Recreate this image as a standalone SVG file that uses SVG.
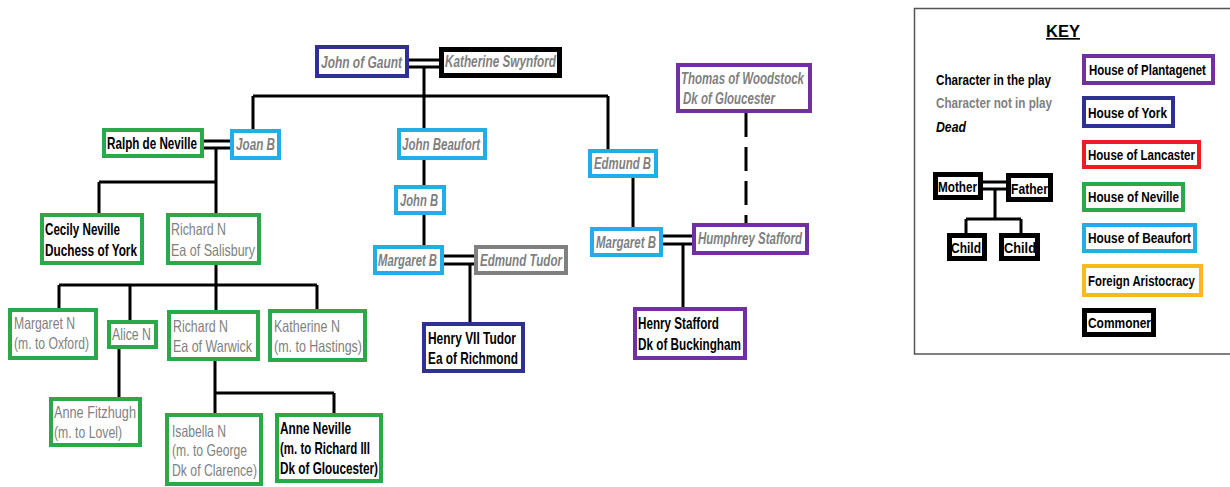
<svg xmlns="http://www.w3.org/2000/svg" width="1230" height="487" viewBox="0 0 1230 487">
<style>
.bx{fill:#fff;stroke-width:4}
.bk{stroke:#000;stroke-width:5}
.yk{stroke:#2e3192}
.pl{stroke:#7030a0}
.nv{stroke:#2aa84a}
.bf{stroke:#22ade6}
.lc{stroke:#ed1c24}
.fa{stroke:#f9b91c}
.gy{stroke:#808080}
text{font-family:"Liberation Sans Narrow","Liberation Sans",Arial,sans-serif;font-size:16.5px}
.d{fill:#7f7f7f;font-style:italic;font-weight:bold}
.n{fill:#7f7f7f}
.p{fill:#000;font-weight:bold}
.k{font-size:15.5px}
.ln{stroke:#000;stroke-width:3;fill:none}
.dash{stroke:#000;stroke-width:3;fill:none;stroke-dasharray:24 10}
</style>
<rect width="1230" height="487" fill="#fff"/>
<g id="connectors">
<path class="ln" d="M409 60H439M409 67H439M424 67V128M253 96H608M253 96V129M608 96V149"/>
<path class="ln" d="M204 141H230M204 148H230M216 148V213M99 182H216M99 182V213"/>
<path class="ln" d="M216 265V285M59 285H317M59 285V308M130 285V320M216 285V310M317 285V309"/>
<path class="ln" d="M119 349V397M215 361V413M215 393H334M334 393V413"/>
<path class="ln" d="M424 160V185M424 215V245M444 256H474M444 264H474M470 264V322"/>
<path class="ln" d="M633 178V227M663 236H692M663 244H692M683 244V307"/>
<path class="dash" d="M746 113V223"/>
</g>
<g id="gaunt"><rect class="bx yk" x="317" y="47" width="90" height="29"/><text class="d" x="321" y="68" textLength="81" lengthAdjust="spacingAndGlyphs">John of Gaunt</text></g>
<g id="katherine"><rect class="bx bk" x="441.5" y="49.5" width="118" height="26"/><text class="d" x="445" y="67" textLength="111" lengthAdjust="spacingAndGlyphs">Katherine Swynford</text></g>
<g id="ralph"><rect class="bx nv" x="104" y="130" width="98" height="26"/><text class="p" x="107" y="149" textLength="90" lengthAdjust="spacingAndGlyphs">Ralph de Neville</text></g>
<g id="joan"><rect class="bx bf" x="232" y="131" width="47" height="27"/><text class="d" x="236" y="150" textLength="39" lengthAdjust="spacingAndGlyphs">Joan B</text></g>
<g id="john-beaufort"><rect class="bx bf" x="399" y="130" width="86" height="28"/><text class="d" x="402" y="150" textLength="78" lengthAdjust="spacingAndGlyphs">John Beaufort</text></g>
<g id="edmund-b"><rect class="bx bf" x="590" y="151" width="66" height="25"/><text class="d" x="594" y="169" textLength="57" lengthAdjust="spacingAndGlyphs">Edmund B</text></g>
<g id="thomas"><rect class="bx pl" x="678" y="65" width="132" height="46"/><text class="d" x="681" y="84" textLength="123" lengthAdjust="spacingAndGlyphs">Thomas of Woodstock</text><text class="d" x="683" y="104" textLength="92" lengthAdjust="spacingAndGlyphs">Dk of Gloucester</text></g>
<g id="john-b"><rect class="bx bf" x="396" y="187" width="48" height="26"/><text class="d" x="400" y="206" textLength="38" lengthAdjust="spacingAndGlyphs">John B</text></g>
<g id="margaret-b1"><rect class="bx bf" x="375" y="247" width="67" height="26"/><text class="d" x="378" y="266" textLength="59" lengthAdjust="spacingAndGlyphs">Margaret B</text></g>
<g id="edmund-tudor"><rect class="bx gy" x="476" y="247" width="90" height="26"/><text class="d" x="480" y="266" textLength="82" lengthAdjust="spacingAndGlyphs">Edmund Tudor</text></g>
<g id="margaret-b2"><rect class="bx bf" x="592" y="229" width="69" height="26"/><text class="d" x="596" y="248" textLength="60" lengthAdjust="spacingAndGlyphs">Margaret B</text></g>
<g id="humphrey"><rect class="bx pl" x="694" y="225" width="113" height="28"/><text class="d" x="698" y="244" textLength="104" lengthAdjust="spacingAndGlyphs">Humphrey Stafford</text></g>
<g id="cecily"><rect class="bx nv" x="42" y="215" width="100" height="48"/><text class="p" x="45" y="235" textLength="75" lengthAdjust="spacingAndGlyphs">Cecily Neville</text><text class="p" x="45" y="256" textLength="92" lengthAdjust="spacingAndGlyphs">Duchess of York</text></g>
<g id="richard-salisbury"><rect class="bx nv" x="168" y="215" width="91" height="48"/><text class="n" x="171" y="235" textLength="55" lengthAdjust="spacingAndGlyphs">Richard N</text><text class="n" x="171" y="256" textLength="84" lengthAdjust="spacingAndGlyphs">Ea of Salisbury</text></g>
<g id="margaret-n"><rect class="bx nv" x="10" y="310" width="86" height="48"/><text class="n" x="14" y="329" textLength="61" lengthAdjust="spacingAndGlyphs">Margaret N</text><text class="n" x="14" y="349" textLength="75" lengthAdjust="spacingAndGlyphs">(m. to Oxford)</text></g>
<g id="alice"><rect class="bx nv" x="109" y="322" width="47" height="25"/><text class="n" x="112" y="340" textLength="39" lengthAdjust="spacingAndGlyphs">Alice N</text></g>
<g id="richard-warwick"><rect class="bx nv" x="169" y="312" width="89" height="47"/><text class="n" x="173" y="332" textLength="55" lengthAdjust="spacingAndGlyphs">Richard N</text><text class="n" x="173" y="352" textLength="79" lengthAdjust="spacingAndGlyphs">Ea of Warwick</text></g>
<g id="katherine-n"><rect class="bx nv" x="270" y="311" width="95" height="49"/><text class="n" x="274" y="332" textLength="66" lengthAdjust="spacingAndGlyphs">Katherine N</text><text class="n" x="274" y="352" textLength="88" lengthAdjust="spacingAndGlyphs">(m. to Hastings)</text></g>
<g id="anne-fitzhugh"><rect class="bx nv" x="51" y="399" width="89" height="46"/><text class="n" x="54" y="418" textLength="82" lengthAdjust="spacingAndGlyphs">Anne Fitzhugh</text><text class="n" x="54" y="438" textLength="68" lengthAdjust="spacingAndGlyphs">(m. to Lovel)</text></g>
<g id="isabella"><rect class="bx nv" x="167" y="415" width="94" height="69"/><text class="n" x="172" y="437" textLength="54" lengthAdjust="spacingAndGlyphs">Isabella N</text><text class="n" x="172" y="456" textLength="75" lengthAdjust="spacingAndGlyphs">(m. to George</text><text class="n" x="172" y="476" textLength="85" lengthAdjust="spacingAndGlyphs">Dk of Clarence)</text></g>
<g id="anne-neville"><rect class="bx nv" x="277" y="415" width="104" height="66"/><text class="p" x="280" y="434" textLength="71" lengthAdjust="spacingAndGlyphs">Anne Neville</text><text class="p" x="280" y="454" textLength="90" lengthAdjust="spacingAndGlyphs">(m. to Richard III</text><text class="p" x="280" y="474" textLength="98" lengthAdjust="spacingAndGlyphs">Dk of Gloucester)</text></g>
<g id="henry-vii"><rect class="bx yk" x="424" y="324" width="99" height="47"/><text class="p" x="428" y="344" textLength="88" lengthAdjust="spacingAndGlyphs">Henry VII Tudor</text><text class="p" x="428" y="364" textLength="90" lengthAdjust="spacingAndGlyphs">Ea of Richmond</text></g>
<g id="henry-stafford"><rect class="bx pl" x="635" y="309" width="110" height="49"/><text class="p" x="638" y="329" textLength="81" lengthAdjust="spacingAndGlyphs">Henry Stafford</text><text class="p" x="638" y="350" textLength="103" lengthAdjust="spacingAndGlyphs">Dk of Buckingham</text></g>
<g id="key">
<path d="M1230 8.5H914.5V354H1230" fill="none" stroke="#555" stroke-width="1.5"/>
<text class="p" x="1063" y="37" text-anchor="middle" font-size="17" text-decoration="underline">KEY</text>
<text class="p k" x="936" y="85" textLength="115" lengthAdjust="spacingAndGlyphs">Character in the play</text>
<text class="n k" x="936" y="108" font-weight="bold" textLength="116" lengthAdjust="spacingAndGlyphs">Character not in play</text>
<text class="p k" x="936" y="132" font-style="italic" textLength="30" lengthAdjust="spacingAndGlyphs">Dead</text>
<path class="ln" d="M983 182H1006M983 189H1006M995 189V219M966 219H1021M966 219V233M1021 219V233"/>
<rect class="bx bk" x="935.5" y="174.5" width="45" height="23"/><text class="p k" x="938" y="192" textLength="39" lengthAdjust="spacingAndGlyphs">Mother</text>
<rect class="bx bk" x="1008.5" y="175.5" width="42" height="24"/><text class="p k" x="1011" y="194" textLength="37" lengthAdjust="spacingAndGlyphs">Father</text>
<rect class="bx bk" x="949.5" y="235.5" width="35" height="23"/><text class="p k" x="951" y="253" textLength="30" lengthAdjust="spacingAndGlyphs">Child</text>
<rect class="bx bk" x="1001.5" y="235.5" width="36" height="23"/><text class="p k" x="1004" y="253" textLength="32" lengthAdjust="spacingAndGlyphs">Child</text>
<rect class="bx pl" x="1084" y="56" width="129" height="27"/><text class="p k" transform="translate(1089 75) scale(0.74 1)" textLength="158" lengthAdjust="spacingAndGlyphs">House of Plantagenet</text>
<rect class="bx yk" x="1084" y="98" width="89" height="28"/><text class="p k" x="1088" y="118" textLength="79" lengthAdjust="spacingAndGlyphs">House of York</text>
<rect class="bx lc" x="1084" y="142" width="115" height="25"/><text class="p k" x="1088" y="160" textLength="107" lengthAdjust="spacingAndGlyphs">House of Lancaster</text>
<rect class="bx nv" x="1084" y="184" width="99" height="26"/><text class="p k" x="1088" y="202" textLength="91" lengthAdjust="spacingAndGlyphs">House of Neville</text>
<rect class="bx bf" x="1084" y="225" width="111" height="26"/><text class="p k" x="1088" y="243" textLength="103" lengthAdjust="spacingAndGlyphs">House of Beaufort</text>
<rect class="bx fa" x="1084" y="266" width="117" height="29"/><text class="p k" transform="translate(1088 286) scale(0.69 1)" textLength="155" lengthAdjust="spacingAndGlyphs">Foreign Aristocracy</text>
<rect class="bx bk" x="1084.5" y="310.5" width="69" height="24"/><text class="p k" x="1088" y="328" textLength="63" lengthAdjust="spacingAndGlyphs">Commoner</text>
</g>
</svg>
